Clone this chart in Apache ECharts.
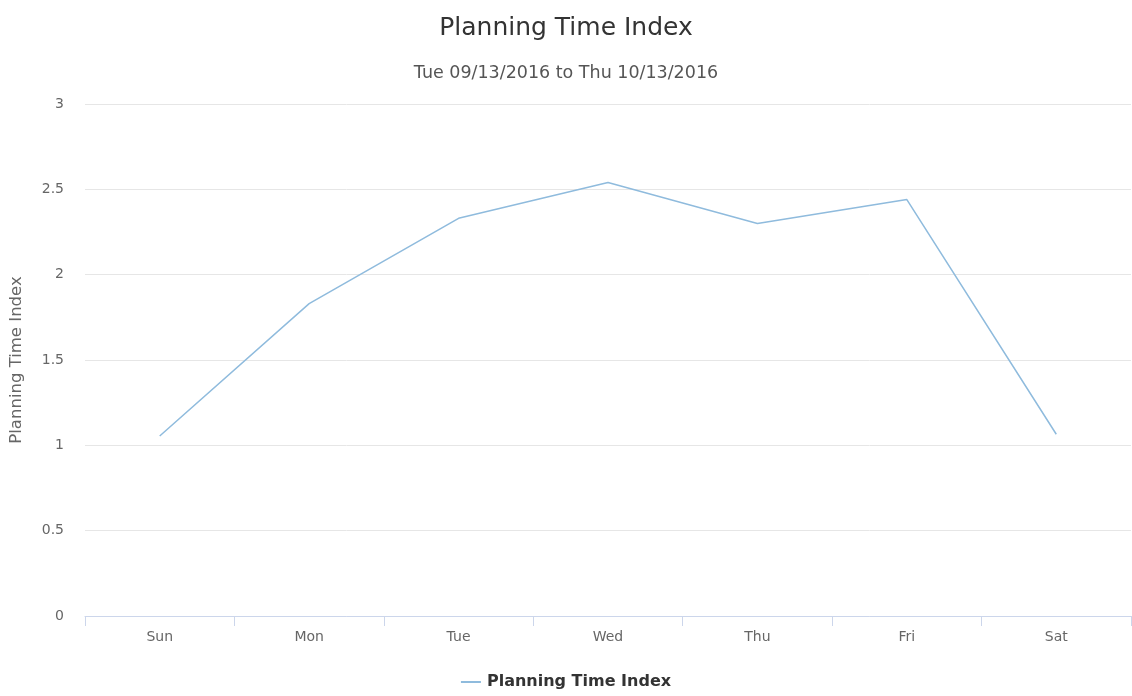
<!DOCTYPE html>
<html>
<head>
<meta charset="utf-8">
<script src="https://cdn.jsdelivr.net/npm/echarts@6/dist/echarts.min.js"></script>
<style>html,body{margin:0;padding:0;background:#fff;}#c{width:1132px;height:696px;}</style>
</head>
<body>
<div id="c"></div>
<script>
const titleText = "Planning Time Index";
const subtitleText = "Tue 09/13/2016 to Thu 10/13/2016";
const categories = ["Sun", "Mon", "Tue", "Wed", "Thu", "Fri", "Sat"];
const seriesName = "Planning Time Index";
const values = [1.055, 1.83, 2.33, 2.54, 2.30, 2.44, 1.065];
const yTicks = [0, 0.5, 1, 1.5, 2, 2.5, 3];

const FONT = 'DejaVu Sans';
const chart = echarts.init(document.getElementById('c'), null, {renderer: 'canvas'});
chart.setOption({
  animation: false,
  backgroundColor: '#ffffff',
  title: [
    {text: titleText, left: 'center', top: 11,
     textStyle: {fontFamily: FONT, fontSize: 25, fontWeight: 'normal', color: '#333333'}},
    {text: subtitleText, left: 'center', top: 59,
     textStyle: {fontFamily: FONT, fontSize: 17.5, fontWeight: 'normal', color: '#555555'}}
  ],
  legend: {
    bottom: 1, left: 'center',
    icon: 'path://M0,0 L20,0 L20,2 L0,2 Z',
    itemWidth: 22, itemHeight: 2, itemGap: 8,
    textStyle: {fontFamily: FONT, fontSize: 16, fontWeight: 'bold', color: '#333333'},
    data: [seriesName]
  },
  grid: {left: 85, right: 1, top: 104, bottom: 80, containLabel: false, outerBoundsMode: 'none'},
  xAxis: {
    type: 'category', data: categories, boundaryGap: true,
    axisLine: {lineStyle: {color: '#ccd6eb', width: 1}},
    axisTick: {show: true, length: 10, lineStyle: {color: '#ccd6eb'}},
    axisLabel: {fontFamily: FONT, fontSize: 14, color: '#666666', margin: 14},
    splitLine: {show: false}
  },
  yAxis: {
    type: 'value', min: yTicks[0], max: yTicks[yTicks.length - 1], interval: 0.5,
    name: seriesName, nameLocation: 'middle', nameGap: 60, nameRotate: 90,
    nameTextStyle: {fontFamily: FONT, fontSize: 16.5, color: '#666666'},
    axisLine: {show: false}, axisTick: {show: false},
    axisLabel: {fontFamily: FONT, fontSize: 14, color: '#666666', margin: 21},
    splitLine: {lineStyle: {color: '#e6e6e6', width: 1}}
  },
  series: [{
    name: seriesName, type: 'line', data: values,
    showSymbol: false, symbol: 'none',
    lineStyle: {color: '#8fbbdd', width: 1.5},
    itemStyle: {color: '#8fbbdd'}
  }]
});
</script>
</body>
</html>
